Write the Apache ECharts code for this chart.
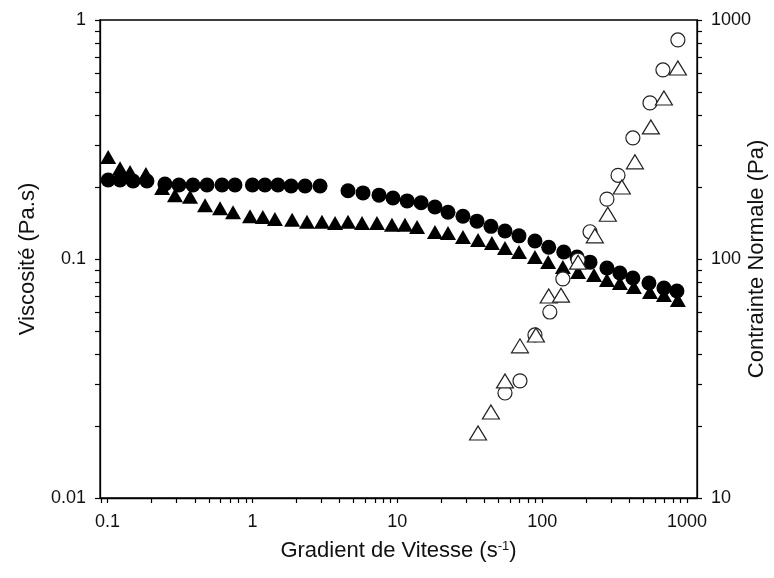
<!DOCTYPE html>
<html><head><meta charset="utf-8">
<script src="https://cdn.jsdelivr.net/npm/echarts@6/dist/echarts.min.js"></script>
<style>html,body{margin:0;padding:0;background:#fff}#c{width:774px;height:578px}</style>
</head><body><div id="c"></div>
<script>
// Viscosity (left axis, Pa.s) - filled circles
const viscCircleX = [0.101, 0.122, 0.150, 0.187, 0.249, 0.311, 0.389, 0.486, 0.617, 0.758, 1.0, 1.22, 1.50, 1.85, 2.31, 2.93, 4.57, 5.80, 7.48, 9.34, 11.7, 14.6, 18.2, 22.4, 28.4, 35.5, 44.3, 55.4, 69.2, 89.2, 111, 141, 174, 214, 280, 344, 423, 546, 693, 852];
const viscCircleY = [0.214, 0.214, 0.212, 0.212, 0.206, 0.204, 0.204, 0.204, 0.204, 0.204, 0.204, 0.204, 0.204, 0.202, 0.202, 0.202, 0.193, 0.189, 0.185, 0.180, 0.175, 0.172, 0.165, 0.157, 0.151, 0.144, 0.137, 0.131, 0.125, 0.119, 0.112, 0.107, 0.102, 0.097, 0.0917, 0.0874, 0.0833, 0.0794, 0.0756, 0.0735];
// Viscosity (left axis) - filled triangles
const viscTriX = [0.101, 0.122, 0.143, 0.184, 0.238, 0.292, 0.371, 0.471, 0.598, 0.735, 0.963, 1.18, 1.43, 1.88, 2.38, 3.02, 3.72, 4.57, 5.71, 7.24, 9.19, 11.3, 13.7, 18.2, 22.4, 28.4, 36.1, 45.0, 55.4, 69.2, 89.2, 110, 139, 177, 228, 280, 344, 430, 555, 693, 865];
const viscTriY = [0.267, 0.240, 0.231, 0.227, 0.198, 0.185, 0.182, 0.168, 0.163, 0.157, 0.151, 0.150, 0.147, 0.146, 0.143, 0.143, 0.1415, 0.143, 0.1415, 0.1415, 0.139, 0.139, 0.136, 0.1297, 0.1284, 0.1236, 0.120, 0.1167, 0.1112, 0.107, 0.1019, 0.0971, 0.0926, 0.0882, 0.0857, 0.0817, 0.0794, 0.0763, 0.0728, 0.0707, 0.0674];
// Normal stress (right axis, Pa) - open circles
const normCircleX = [55.4, 70.3, 89.2, 113, 139, 177, 214, 280, 334, 423, 555, 682, 865];
const normCircleY = [27.5, 30.9, 48.1, 60.0, 82.5, 99, 130, 178, 224, 321, 450, 618, 825];
// Normal stress (right axis) - open triangles
const normTriX = [36.1, 44.3, 55.4, 70.3, 90.6, 111, 135, 177, 231, 284, 355, 437, 563, 693, 865];
const normTriY = [18.7, 22.9, 30.9, 43.3, 48.1, 70.0, 70.6, 97, 125, 154, 200, 255, 357, 472, 630];

// Tick labels
const xTickLabels = [0.1, 1, 10, 100, 1000];
const yLeftTickLabels = [0.01, 0.1, 1];
const yRightTickLabels = [10, 100, 1000];
const xRange = [0.0887, 1172];
const yLeftRange = [0.01, 1];
const yRightRange = [10, 1000];

function allTicks(range) {
  const out = [];
  const s = Math.floor(Math.log10(range[0])), e = Math.ceil(Math.log10(range[1]));
  for (let p = s; p <= e; p++) for (let m = 1; m <= 9; m++) {
    const v = +(m * Math.pow(10, p)).toPrecision(6);
    if (v >= range[0] && v <= range[1]) out.push(v);
  }
  return out;
}
const pair = (xs, ys) => xs.map((x, i) => [x, ys[i]]);
const fmt = v => String(+Number(v).toPrecision(6));
const FONT = 'Liberation Sans, Arial, sans-serif';
const INK = '#111';
const line = { color: '#000', width: 1.3 };
const labelStyle = { fontFamily: FONT, fontSize: 18, color: INK };
const nameStyle = { fontFamily: FONT, fontSize: 22, color: INK };

function mainAxis(range, labels, pos, extra, margin) {
  return Object.assign({
    type: 'log', logBase: 10, min: range[0], max: range[1], position: pos,
    nameMoveOverlap: false,
    axisLine: { show: true, onZero: false, lineStyle: line },
    axisTick: { show: true, inside: false, length: 5, customValues: allTicks(range), lineStyle: { color: '#000', width: 1.2 } },
    axisLabel: Object.assign({ show: true, customValues: labels, formatter: fmt, margin: margin || 13, showMinLabel: true, showMaxLabel: true }, labelStyle),
    splitLine: { show: false }, minorTick: { show: false }
  }, extra || {});
}

const chart = echarts.init(document.getElementById('c'), null, { renderer: 'canvas' });
chart.setOption({
  animation: false,
  backgroundColor: '#fff',
  grid: { left: 100, right: 77, top: 20, bottom: 80, show: true, borderColor: '#000', borderWidth: 1.3, backgroundColor: 'transparent', containLabel: false, outerBoundsMode: 'none' },
  xAxis: [
    mainAxis(xRange, xTickLabels, 'bottom', {
      name: 'Gradient de Vitesse (s{sup|-1})', nameLocation: 'middle', nameGap: 42,
      nameTextStyle: Object.assign({ rich: { sup: { fontFamily: FONT, fontSize: 13, color: INK, verticalAlign: 'top', lineHeight: 22, padding: [0, 0, 10, 0] } } }, nameStyle)
    }, 15)
  ],
  yAxis: [
    mainAxis(yLeftRange, yLeftTickLabels, 'left', {
      name: 'Viscosité (Pa.s)', nameLocation: 'middle', nameGap: 61, nameRotate: 90, nameTextStyle: nameStyle
    }, 14),
    mainAxis(yRightRange, yRightTickLabels, 'right', {
      name: 'Contrainte Normale (Pa)', nameLocation: 'middle', nameGap: 49, nameRotate: 90, nameTextStyle: nameStyle
    }, 14)
  ],
  series: [
    { type: 'scatter', xAxisIndex: 0, yAxisIndex: 0, symbol: 'circle', symbolSize: 15,
      itemStyle: { color: '#000', opacity: 1 }, data: pair(viscCircleX, viscCircleY) },
    { type: 'scatter', xAxisIndex: 0, yAxisIndex: 0, symbol: 'triangle', symbolSize: [16, 14],
      itemStyle: { color: '#000', opacity: 1 }, data: pair(viscTriX, viscTriY) },
    { type: 'scatter', xAxisIndex: 0, yAxisIndex: 1, symbol: 'circle', symbolSize: 14,
      itemStyle: { color: '#fff', borderColor: '#222', borderWidth: 1.2, opacity: 1 }, data: pair(normCircleX, normCircleY) },
    { type: 'scatter', xAxisIndex: 0, yAxisIndex: 1, symbol: 'triangle', symbolSize: [17, 14],
      itemStyle: { color: '#fff', borderColor: '#222', borderWidth: 1.2, opacity: 1 }, data: pair(normTriX, normTriY) }
  ]
});
</script>
</body></html>
